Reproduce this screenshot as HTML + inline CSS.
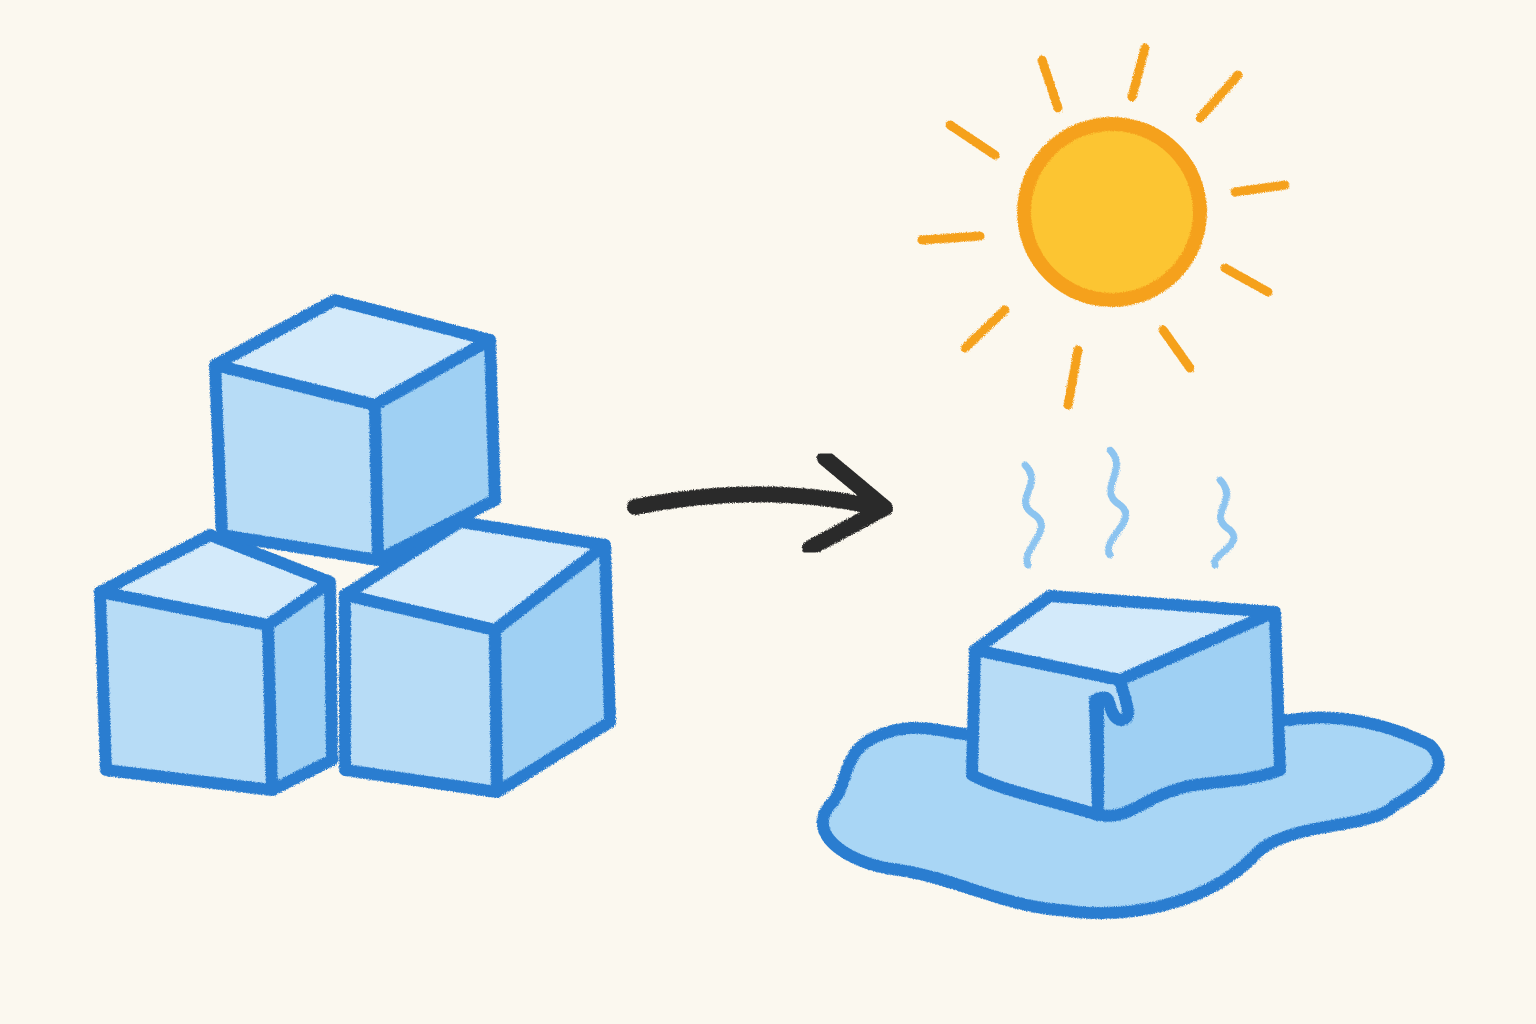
<!DOCTYPE html>
<html>
<head>
<meta charset="utf-8">
<style>
html,body{margin:0;padding:0;background:#fbf8ef;}
svg{display:block;}
</style>
</head>
<body>
<svg width="1536" height="1024" viewBox="0 0 1536 1024">
<defs>
<filter id="crayon" x="-5%" y="-5%" width="110%" height="110%">
<feTurbulence type="fractalNoise" baseFrequency="0.9" numOctaves="2" result="n"/>
<feDisplacementMap in="SourceGraphic" in2="n" scale="4"/>
</filter>
</defs>
<rect width="1536" height="1024" fill="#fbf8ef"/>
<g filter="url(#crayon)" stroke="#2a7dd0" stroke-width="12" stroke-linejoin="round" stroke-linecap="round">
 <!-- bottom-left cube -->
 <g>
  <polygon points="100,592 210,535 330,582 268,625" fill="#d3eafa"/>
  <polygon points="100,592 268,625 272,790 106,770" fill="#b7dcf6"/>
  <polygon points="268,625 330,582 332,760 272,790" fill="#9fd0f3"/>
 </g>
 <!-- bottom-right cube -->
 <g>
  <polygon points="345,595 460,522 605,545 495,630" fill="#d3eafa"/>
  <polygon points="345,595 495,630 497,792 345,770" fill="#b7dcf6"/>
  <polygon points="495,630 605,545 610,722 497,792" fill="#9fd0f3"/>
 </g>
 <!-- top cube -->
 <g>
  <polygon points="215,365 335,300 490,340 375,405" fill="#d3eafa"/>
  <polygon points="215,365 375,405 378,560 222,535" fill="#b7dcf6"/>
  <polygon points="375,405 490,340 495,500 378,560" fill="#9fd0f3"/>
 </g>
 <!-- puddle -->
 <path d="M880,735 C930,715 960,745 990,730 L1290,720 C1340,712 1390,725 1430,745 C1455,770 1420,790 1395,805 C1370,830 1300,820 1260,850 C1210,905 1130,920 1060,910 C1000,905 960,880 900,870 C850,865 805,835 830,805 C850,785 840,750 880,735 Z" fill="#a9d6f5"/>
 <!-- melting cube -->
 <g>
  <polygon points="975,650 1050,596 1275,612 1120,680" fill="#d3eafa"/>
  <path d="M975,650 L1120,680 C1125,700 1135,720 1120,720 C1105,715 1115,690 1095,700 L1098,815 C1050,800 1000,790 972,775 Z" fill="#b7dcf6"/>
  <path d="M1120,680 L1275,612 L1280,770 C1240,785 1200,780 1175,790 C1140,800 1130,820 1098,815 L1098,700 C1115,690 1105,715 1120,720 C1135,720 1125,700 1120,680 Z" fill="#9fd0f3"/>
 </g>
</g>
<!-- steam -->
<g filter="url(#crayon)" stroke="#8cc4f0" stroke-width="7" fill="none" stroke-linecap="round">
 <path d="M1025,465 C1045,485 1010,500 1035,515 C1055,530 1020,550 1028,565"/>
 <path d="M1110,450 C1130,470 1095,490 1120,505 C1140,520 1100,540 1110,555"/>
 <path d="M1220,480 C1240,500 1205,515 1230,530 C1245,545 1210,555 1215,565"/>
</g>
<!-- arrow -->
<g filter="url(#crayon)" stroke="#2b2b2b" stroke-width="16" fill="none" stroke-linecap="round" stroke-linejoin="round">
 <path d="M635,507 C720,490 800,490 880,508"/>
 <path d="M825,458 L885,508 L810,548"/>
</g>
<!-- sun -->
<g filter="url(#crayon)">
 <circle cx="1112" cy="212" r="88" fill="#fcc533" stroke="#f5a11c" stroke-width="14"/>
 <g stroke="#f5a11c" stroke-width="9" stroke-linecap="round">
  <line x1="1058" y1="108" x2="1042" y2="60"/>
  <line x1="1132" y1="97" x2="1145" y2="48"/>
  <line x1="1200" y1="118" x2="1238" y2="75"/>
  <line x1="1235" y1="192" x2="1285" y2="185"/>
  <line x1="1225" y1="268" x2="1268" y2="292"/>
  <line x1="1163" y1="330" x2="1190" y2="368"/>
  <line x1="1078" y1="350" x2="1068" y2="405"/>
  <line x1="1005" y1="310" x2="965" y2="348"/>
  <line x1="980" y1="236" x2="922" y2="240"/>
  <line x1="995" y1="155" x2="950" y2="125"/>
 </g>
</g>
</svg>
</body>
</html>
